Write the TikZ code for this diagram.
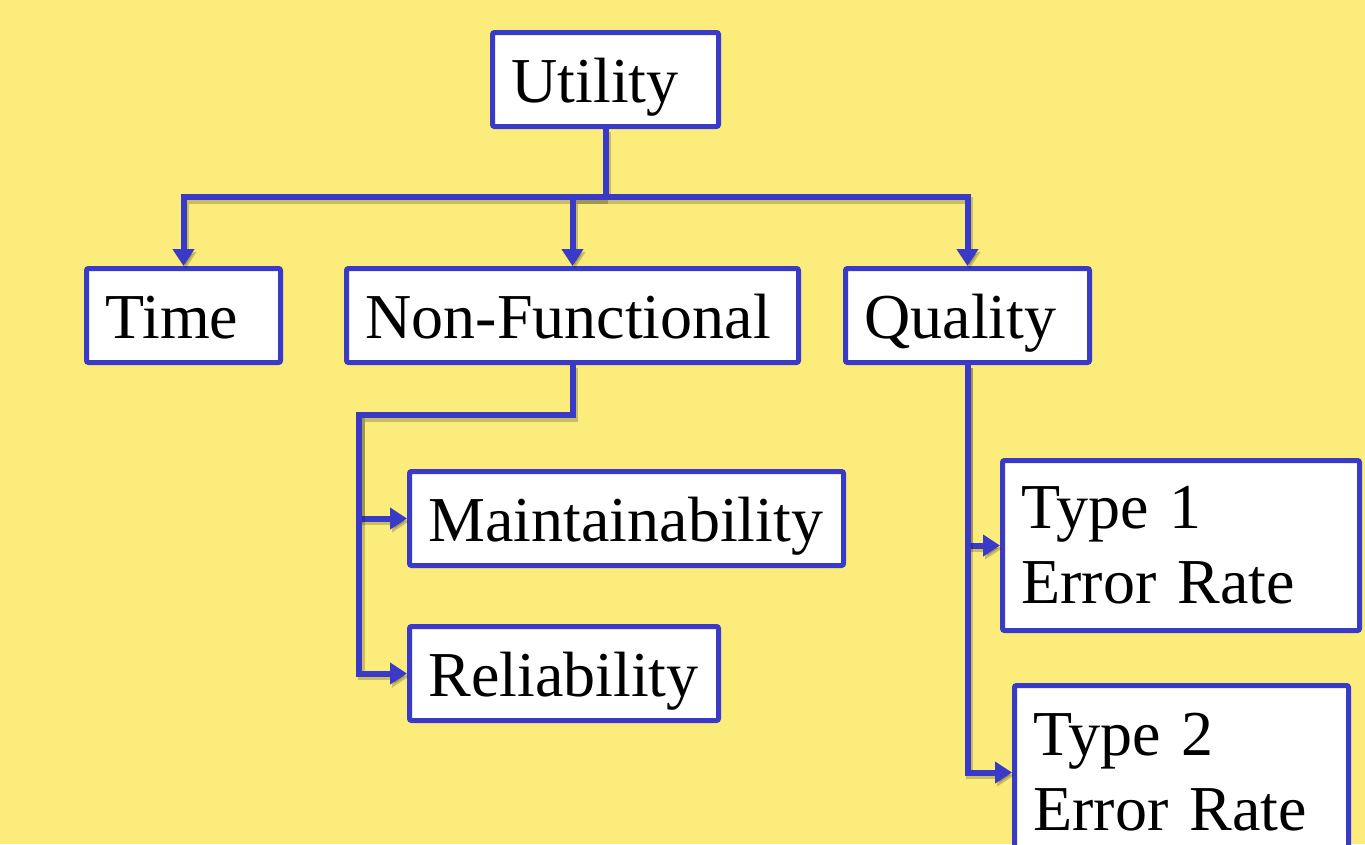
\documentclass[tikz,border=0pt]{standalone}
\usepackage{fontspec}
\setmainfont{Liberation Serif}
\usepackage{tikz}
\usetikzlibrary{arrows.meta}

\definecolor{bgyellow}{RGB}{252,236,124}
\definecolor{treeblue}{RGB}{58,58,200}

\begin{document}
\begin{tikzpicture}[
      x=1pt, y=-1pt,
      font=\fontsize{64}{75}\selectfont,
      box/.style={draw=treeblue, fill=white, line width=5pt, rounded corners=2pt,
                  anchor=north west, align=left, inner xsep=19pt, inner ysep=0pt},
      leaf/.style={box, minimum height=94pt, text height=60pt, text depth=14pt},
      link/.style={draw=treeblue, line width=6pt,
                   preaction={draw=black, opacity=0.2, line width=7pt,
                              transform canvas={shift={(2pt,-3pt)}}}},
      arr/.style={link, -{Triangle[length=17pt, width=21pt]}},
    ]
    \useasboundingbox (0,0) rectangle (1365,844);
    \fill[bgyellow] (0,0) rectangle (1365,844);

    % nodes
    \node[leaf, text width=188pt] (util)  at (490,30)  {Utility};
    \node[leaf, text width=156pt] (time)  at (84,266)  {Time};
    \node[leaf, text width=414pt] (nf)    at (344,266) {Non-Functional};
    \node[leaf, text width=206pt] (qual)  at (843,266) {Quality};
    \node[leaf, text width=396pt] (maint) at (407,469) {Maintainability};
    \node[leaf, text width=271pt] (rel)   at (407,624) {Reliability};
    \node[box, text width=319pt, minimum height=170pt] (tone) at (1000,458) {Type 1\\Error Rate};
    \node[box, text width=296pt, minimum height=174pt] (ttwo) at (1012,683) {Type 2\\Error Rate};

    % connectors
    \coordinate (bus) at (util.south |- 0,197);
    \coordinate (nfbus) at (359,415);
    \draw[link] (util.south) -- (bus);
    \draw[arr] (bus) -| (time.north);
    \draw[arr] (bus) -| (nf.north);
    \draw[arr] (bus) -| (qual.north);
    \draw[arr] (nf.south) |- (nfbus) |- (maint.west);
    \draw[arr] (nfbus) |- (rel.west);
    \draw[arr] (qual.south) |- (tone.west);
    \draw[arr] (qual.south) |- (ttwo.west);
  \end{tikzpicture}
\end{document}
